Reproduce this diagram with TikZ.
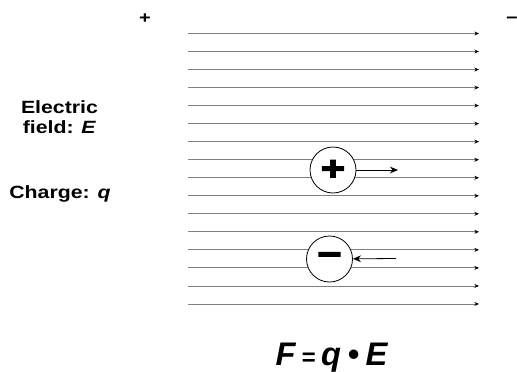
\documentclass[tikz,border=0pt]{standalone}
\usepackage{fontspec}
\setmainfont[FakeStretch=1.2]{Liberation Sans}
\newfontfamily\signfont[FakeStretch=1.25,FakeBold=4]{Liberation Sans}
\newfontfamily\lawfont{Liberation Sans}
\usetikzlibrary{arrows.meta}

\begin{document}
\begin{tikzpicture}[x=0.75pt,y=-0.75pt,
  fieldline/.style={black!50,line width=0.6pt,-{Stealth[length=3.5pt,width=3pt,black]}},
  charge/.style={circle,draw,line width=0.6pt,fill=white,minimum size=34.5pt,inner sep=0pt,font=\signfont\bfseries\fontsize{25}{25}\selectfont},
  force/.style={line width=0.6pt,-{Stealth[length=6pt,width=5pt]}},
  lab/.style={font=\bfseries\fontsize{13.3}{15}\selectfont,align=center,inner sep=0pt}]
  \useasboundingbox (0,0) rectangle (517,371);
  \foreach \i in {0,...,15} \draw[fieldline] (188,33.5+18.03*\i) -- (479,33.5+18.03*\i);
  \node[lab,font=\bfseries\fontsize{12.5}{12.5}\selectfont] (plate+) at (145,19) {+}; \node[lab,font=\bfseries\fontsize{12.5}{12.5}\selectfont] (plate-) at (512,20) {−};
  \node[lab] (efield) at (59.5,117.5) {Electric\\field: \textit{E}}; \node[lab] (qlab) at (60,194) {Charge: \textit{q}};
  \node[charge] (pos) at (333,170) {+}; \coordinate (posend) at (398,170); \draw[force] (pos) -- (posend);
  \node[charge] (neg) at (329.5,259) {−}; \coordinate (negstart) at (396,258.5); \draw[force] (negstart) -- (neg);
  \node[anchor=base,inner sep=0pt,font=\lawfont\bfseries\itshape\fontsize{24.5}{24.5}\selectfont] (law) at (331.5,365) {F\hspace{0.18em}{\fontsize{18}{18}\selectfont=}\hspace{0.18em}q\hspace{0.2em}•\hspace{0.2em}E};
\end{tikzpicture}
\end{document}
